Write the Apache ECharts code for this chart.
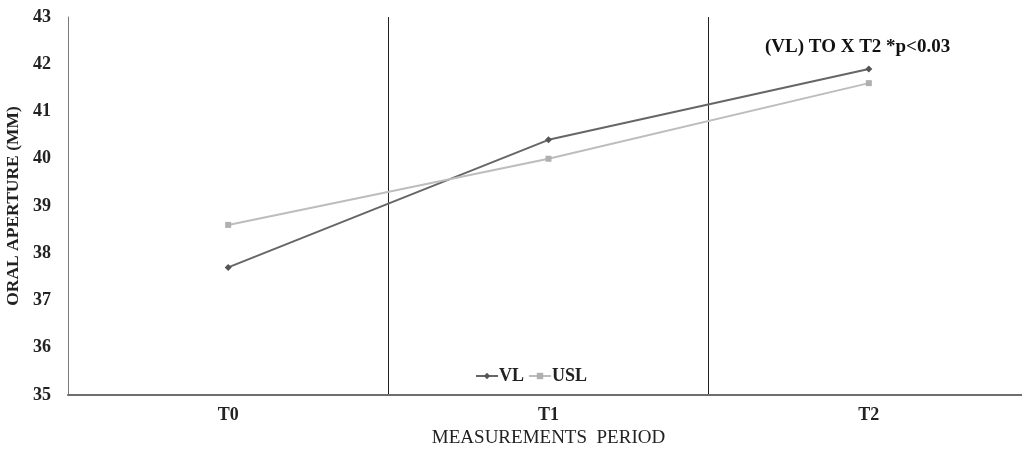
<!DOCTYPE html>
<html>
<head>
<meta charset="utf-8">
<script src="https://cdn.jsdelivr.net/npm/echarts@6/dist/echarts.min.js"></script>
<style>
  html, body { margin: 0; padding: 0; background: #fff; }
  #chart { width: 1022px; height: 450px; }
</style>
</head>
<body>
<div id="chart"></div>
<script>
// data
var periods = ['T0', 'T1', 'T2'];
var vlValues = [37.7, 40.4, 41.9];
var uslValues = [38.6, 40.0, 41.6];
var yTicks = { min: 35, max: 43, step: 1 };
var noteText = '(VL) TO X T2 *p<0.03';

var serif = '"Liberation Serif", "DejaVu Serif", serif';

var mychart = echarts.init(document.getElementById('chart'));
mychart.setOption(getOption());

function getOption() {
  var option = {
    backgroundColor: '#ffffff',
    animation: false,
    title: {
      text: noteText,
      left: 760,
      top: 33,
      textStyle: { fontFamily: serif, fontSize: 19, fontWeight: 'bold', color: '#111' }
    },
    legend: {
      data: ['VL', 'USL'],
      left: 470,
      top: 362,
      itemWidth: 22,
      itemHeight: 8,
      itemGap: 4,
      textStyle: { fontFamily: serif, fontSize: 18, fontWeight: 'bold', color: '#222', padding: [0, 0, 0, -4] }
    },
    grid: { left: 68, right: -7, top: 17, bottom: 55, outerBoundsMode: 'none', containLabel: false },
    xAxis: {
      type: 'category',
      data: periods,
      boundaryGap: true,
      name: 'MEASUREMENTS  PERIOD',
      nameLocation: 'middle',
      nameGap: 33,
      nameTextStyle: { fontFamily: serif, fontSize: 19, color: '#222' },
      axisLine: { lineStyle: { color: '#6e6e6e', width: 2 } },
      axisTick: { show: false },
      axisLabel: { fontFamily: serif, fontSize: 18, fontWeight: 'bold', color: '#222', margin: 11 },
      splitLine: { show: true, lineStyle: { color: '#222', width: 1 } }
    },
    yAxis: {
      type: 'value',
      min: yTicks.min,
      max: yTicks.max,
      interval: yTicks.step,
      name: 'ORAL APERTURE (MM)',
      nameLocation: 'middle',
      nameRotate: 90,
      nameGap: 38,
      nameTextStyle: { fontFamily: serif, fontSize: 17.5, fontWeight: 'bold', color: '#222' },
      axisLine: { show: true, lineStyle: { color: '#7a7a7a', width: 1 } },
      axisTick: { show: false },
      axisLabel: { fontFamily: serif, fontSize: 18, fontWeight: 'bold', color: '#222', margin: 17 },
      splitLine: { show: false }
    },
    series: [
      {
        name: 'VL',
        type: 'line',
        data: vlValues,
        symbol: 'diamond',
        symbolSize: 7,
        lineStyle: { color: '#666666', width: 2 },
        itemStyle: { color: '#555555' }
      },
      {
        name: 'USL',
        type: 'line',
        data: uslValues,
        symbol: 'rect',
        symbolSize: 6,
        lineStyle: { color: '#bdbdbd', width: 2 },
        itemStyle: { color: '#b0b0b0' }
      }
    ]
  };
  return option;
}
</script>
</body>
</html>
